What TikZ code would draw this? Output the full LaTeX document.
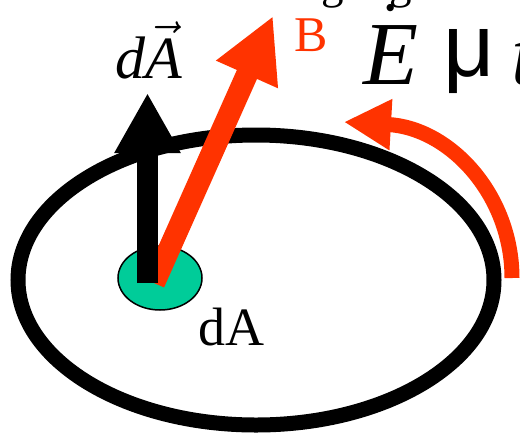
\documentclass[tikz,border=0pt]{standalone}
\usepackage{fix-cm}
\usepackage{fontspec}
\setmainfont{Liberation Serif}
\setsansfont{Liberation Sans}
\usetikzlibrary{arrows.meta}

\definecolor{fieldred}{HTML}{FF3300}
\definecolor{patchgreen}{HTML}{00CC99}

\begin{document}
\begin{tikzpicture}[
  x=1pt, y=-1pt,
  rim/.style={
    draw,
    line width=15pt
  },
  patch/.style={
    draw,
    fill=patchgreen,
    line width=1.5pt
  },
  normalarrow/.style={
    line width=21pt,
    -{Triangle[length=60pt,width=62pt]}
  },
  fieldarrow/.style={
    fieldred,
    line width=22pt,
    -{Triangle[length=64pt,width=63pt]}
  },
  circulation/.style={
    fieldred,
    line width=15pt,
    -{Triangle[length=47pt,width=48pt]}
  },
  lbl/.style={
    inner sep=0pt,
    anchor=base west
  }
]
\useasboundingbox (0,0) rectangle (520,432);
\clip (0,0) rectangle (520,432);

\draw[rim] (256,280) ellipse [x radius=238pt, y radius=145pt];
\draw[patch] (160,278) ellipse [x radius=42pt, y radius=32pt];

\coordinate (redfoot) at (154,283);
\coordinate (redtip) at (273,16);
\coordinate (blackfoot) at (147.5,283);
\coordinate (blacktip) at (147.5,93);
\coordinate (arcstart) at (512,278);
\coordinate (arctip) at (344,122);

\draw[fieldarrow] (redfoot) -- (redtip);
\draw[normalarrow] (blackfoot) -- (blacktip);
\draw[circulation] (arcstart) .. controls (512,195) and (450,128) .. (arctip);

\node[lbl] (dAvec) at (115,78) {\fontsize{60}{60}\selectfont\textit{d}$\vec{\textit{A}}$};
\node[lbl, text=fieldred] (Blabel) at (294,51) {\fontsize{50}{50}\selectfont B};
\node[lbl] (Elabel) at (363,84) {\fontsize{90}{90}\selectfont$\dot{\textit{E}}$};
\node[lbl] (mulabel) at (443,76) {\fontsize{89}{89}\selectfont\sffamily μ};
\node[lbl] (tlabel) at (511,84) {\fontsize{90}{90}\selectfont\textit{t}};
\node[lbl] (dAlabel) at (198,345) {\fontsize{54}{54}\selectfont dA};
\node[lbl] (gleft) at (321,-2) {\fontsize{45}{45}\selectfont g};
\node[lbl] (gright) at (389,-2) {\fontsize{45}{45}\selectfont g};
\end{tikzpicture}
\end{document}
